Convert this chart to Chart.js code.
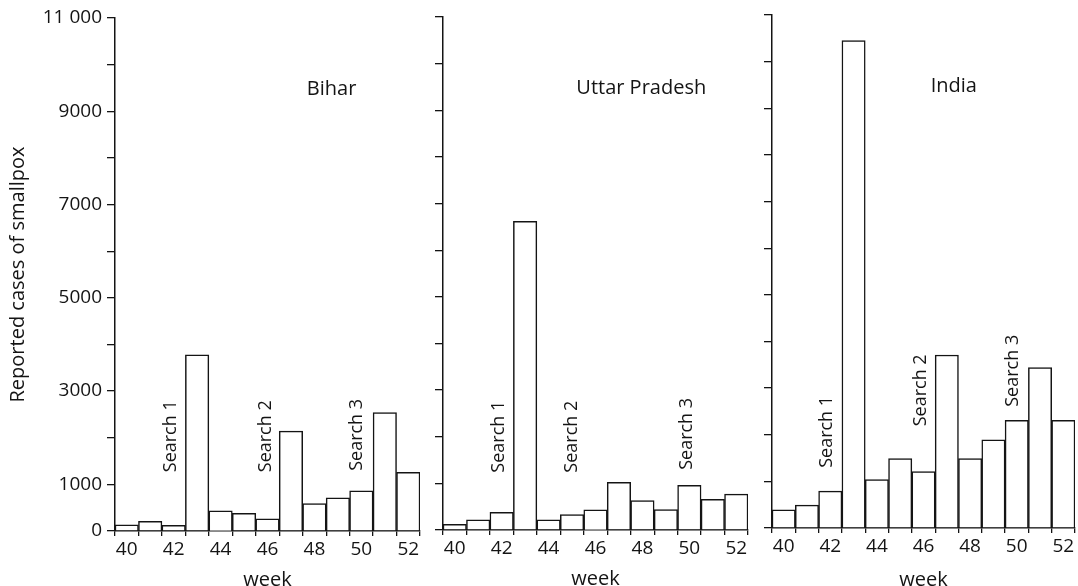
<!DOCTYPE html>
<html>
<head>
<meta charset="utf-8">
<script src="https://cdn.jsdelivr.net/npm/chart.js@4"></script>
<style>
  html, body { margin: 0; padding: 0; background: #fff; }
  #wrap { position: relative; width: 1078px; height: 586px; overflow: hidden; }
  canvas { position: absolute; top: 0; }
</style>
</head>
<body>
<div id="wrap">
  <canvas id="bihar" width="430" height="586" style="left:0"></canvas>
  <canvas id="up" width="328" height="586" style="left:430px;top:-1px"></canvas>
  <canvas id="india" width="319" height="589" style="left:759px;top:-3px"></canvas>
</div>
<script>
// weekly reported smallpox cases
const weeks = [40, 41, 42, 43, 44, 45, 46, 47, 48, 49, 50, 51, 52];
const biharCases = [130, 210, 120, 3780, 430, 380, 260, 2140, 590, 710, 860, 2540, 1260];
const upCases = [120, 220, 380, 6620, 220, 330, 430, 1020, 630, 440, 960, 660, 770];
const indiaCases = [390, 490, 790, 10450, 1040, 1490, 1210, 3710, 1490, 1890, 2310, 3440, 2310];

// tick labels
const xLabelled = [40, 42, 44, 46, 48, 50, 52];
const yLabelled = [0, 1000, 3000, 5000, 7000, 9000, 11000];
const yLabelText = ['0', '1000', '3000', '5000', '7000', '9000', '11 000'];

// search round markers: week position and case level where the text starts
const biharSearchWeek = [41.9, 45.95, 49.8];
const biharSearchFrom = [1260, 1260, 1290];
const upSearchWeek = [41.9, 45.0, 49.9];
const upSearchFrom = [1230, 1230, 1290];
const indiaSearchWeek = [41.85, 45.9, 49.85];
const indiaSearchFrom = [1290, 2180, 2600];

const ink = '#141414';
const FONT = '"Open Sans", "DejaVu Sans", sans-serif';

const annotate = {
  id: 'annotate',
  afterDraw(chart, args, o) {
    const { ctx, chartArea: a, scales: { x, y } } = chart;
    ctx.save();
    ctx.fillStyle = ink;
    ctx.font = '20px ' + FONT;
    ctx.textAlign = 'center';
    ctx.textBaseline = 'middle';
    ctx.fillText(o.title, a.left + o.titleAt * a.width, a.top + 71);

    ctx.font = '18px ' + FONT;
    ctx.textAlign = 'left';
    o.searchWeek.forEach((w, i) => {
      const px = x.getPixelForValue(w - weeks[0]);
      const py = y.getPixelForValue(o.searchFrom[i]);
      ctx.save();
      ctx.translate(px, py);
      ctx.rotate(-Math.PI / 2);
      ctx.fillText('Search ' + (i + 1), 0, 0);
      ctx.restore();
    });
    ctx.restore();
  },
};

function makePanel(id, cases, opts) {
  return new Chart(document.getElementById(id), {
    type: 'bar',
    data: {
      labels: weeks.map(String),
      datasets: [{
        data: cases,
        backgroundColor: '#fff',
        borderColor: ink,
        borderWidth: 1.5,
        categoryPercentage: 1,
        barPercentage: 1,
      }],
    },
    plugins: [annotate],
    options: {
      responsive: false,
      animation: false,
      events: [],
      layout: { padding: { left: 0, right: opts.padRight, top: 18, bottom: 0 } },
      plugins: {
        legend: { display: false },
        tooltip: { enabled: false },
        annotate: opts,
      },
      scales: {
        x: {
          grid: { offset: true, drawOnChartArea: false, tickLength: 5, color: ink, lineWidth: 1.3 },
          border: { color: ink, width: 1.5 },
          ticks: {
            autoSkip: false,
            maxRotation: 0,
            padding: 2,
            color: ink,
            font: { family: FONT, size: 19 },
            callback: (v, i) => (xLabelled.includes(weeks[i]) ? String(weeks[i]) : ''),
          },
          title: {
            display: true,
            text: 'week',
            color: ink,
            font: { family: FONT, size: 20, lineHeight: 0.6 },
            padding: { top: 0, bottom: 0 },
          },
          afterFit: (s) => { s.height = opts.xHeight; },
        },
        y: {
          min: 0,
          max: 11000,
          grid: { drawOnChartArea: false, tickLength: 8, color: ink, lineWidth: 1.3 },
          border: { color: ink, width: 1.5 },
          ticks: {
            stepSize: 1000,
            maxTicksLimit: 20,
            autoSkip: false,
            padding: 5,
            color: ink,
            font: { family: FONT, size: 19 },
            callback: (v) => {
              if (!opts.showLabels) return '';
              const k = yLabelled.indexOf(v);
              return k < 0 ? '' : yLabelText[k];
            },
          },
          title: {
            display: opts.showLabels,
            text: 'Reported cases of smallpox',
            color: ink,
            font: { family: FONT, size: 20 },
            padding: { top: 6, bottom: 0 },
          },
          afterFit: (s) => { s.width = opts.axisWidth; },
        },
      },
    },
  });
}

makePanel('bihar', biharCases, {
  title: 'Bihar', titleAt: 0.71, searchWeek: biharSearchWeek, searchFrom: biharSearchFrom,
  showLabels: true, axisWidth: 115, padRight: 10, xHeight: 55,
});
makePanel('up', upCases, {
  title: 'Uttar Pradesh', titleAt: 0.65, searchWeek: upSearchWeek, searchFrom: upSearchFrom,
  showLabels: false, axisWidth: 13, padRight: 10, xHeight: 55,
});
makePanel('india', indiaCases, {
  title: 'India', titleAt: 0.6, searchWeek: indiaSearchWeek, searchFrom: indiaSearchFrom,
  showLabels: false, axisWidth: 13, padRight: 3, xHeight: 58,
});
</script>
</body>
</html>
